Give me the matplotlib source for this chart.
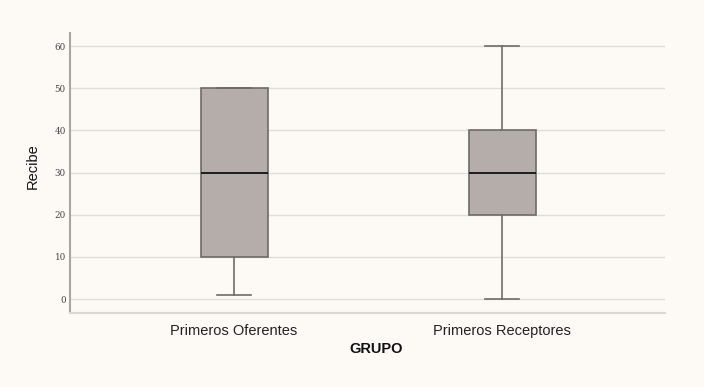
import matplotlib.pyplot as plt

# box statistics
grupos = ["Primeros Oferentes", "Primeros Receptores"]
minimos = [1, 0]
q1 = [10, 20]
medianas = [30, 30]
q3 = [50, 40]
maximos = [50, 60]

plt.rcParams['font.family'] = ['Liberation Sans', 'DejaVu Sans']

fig = plt.figure(figsize=(7.04, 3.87), dpi=100, facecolor="#fdfaf6")
ax = fig.add_axes([70/704, 1 - 313/387, 595/704, 280/387])
ax.set_facecolor("#fdfaf6")

stats = []
for i in range(len(grupos)):
    stats.append({"label": grupos[i], "whislo": minimos[i], "q1": q1[i],
                  "med": medianas[i], "q3": q3[i], "whishi": maximos[i]})

ax.bxp(stats, positions=range(len(grupos)), widths=0.25, patch_artist=True,
       showfliers=False,
       boxprops=dict(facecolor="#b4adaa", edgecolor="#6e6a68", linewidth=1.2),
       medianprops=dict(color="#111111", linewidth=1.3),
       whiskerprops=dict(color="#6e6a68", linewidth=1.2),
       capprops=dict(color="#6e6a68", linewidth=1.2),
       capwidths=0.125, zorder=3)

ax.set_xlim(-0.612, 1.608)
ax.set_ylim(-3.3, 63.1)
ax.set_yticks(range(0, 61, 10))
ax.yaxis.grid(True, color="#e2ddd9", linewidth=1)
ax.set_axisbelow(True)

for s in ["top", "right"]:
    ax.spines[s].set_visible(False)
ax.spines["left"].set_color("#aaa5a2")
ax.spines["left"].set_linewidth(1.5)
ax.spines["bottom"].set_color("#dcd7d3")
ax.spines["bottom"].set_linewidth(1.5)

ax.tick_params(axis="y", length=0, labelsize=6.3, labelcolor="#444444", pad=3)
ax.tick_params(axis="x", length=0, labelsize=10.5, labelcolor="#222222", pad=8)
for lab in ax.get_yticklabels():
    lab.set_family("DejaVu Serif")

ax.set_ylabel("Recibe", fontsize=10.5, color="#111111")
ax.yaxis.set_label_coords(-0.05, 0.525)
ax.set_xlabel("GRUPO", fontsize=10.5, fontweight="bold", color="#111111")
ax.xaxis.set_label_coords(0.514, -0.105)

fig.savefig("out.png", dpi=100, facecolor=fig.get_facecolor())
